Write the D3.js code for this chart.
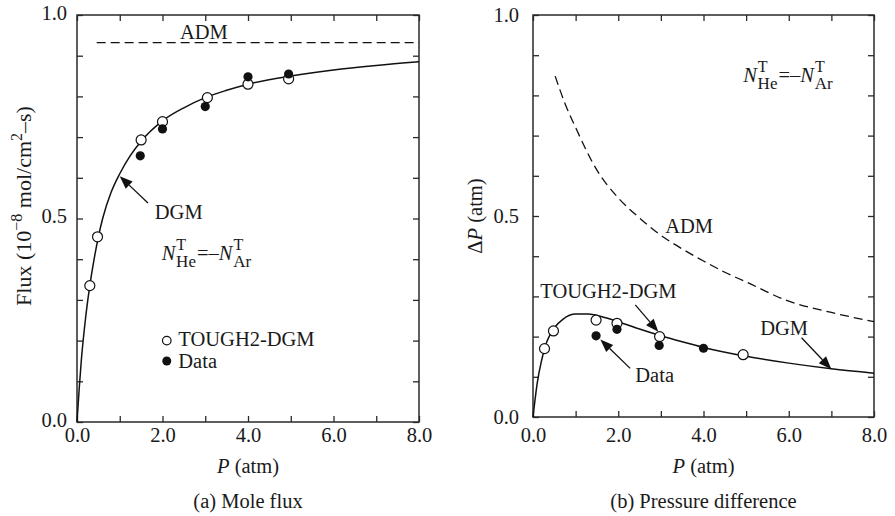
<!DOCTYPE html>
<html>
<head>
<meta charset="utf-8">
<script src="https://cdn.jsdelivr.net/npm/d3@7"></script>
<style>
  body { margin: 0; background: #fff; }
</style>
</head>
<body>
<script>
// ---- data ----
// (a) mole flux
const fluxDgmP   = [0, 0.05, 0.1, 0.2, 0.3, 0.4, 0.5, 0.6, 0.8, 1.0, 1.25, 1.5, 2.0, 2.5, 3.0, 3.5, 4.0, 5.0, 6.0, 7.0, 8.0];
const fluxDgmVal = [0, 0.08, 0.15, 0.255, 0.335, 0.40, 0.455, 0.50, 0.565, 0.61, 0.655, 0.69, 0.74, 0.772, 0.797, 0.815, 0.83, 0.85, 0.865, 0.876, 0.885];
const fluxAdmP   = [0.46, 8.0];
const fluxAdmVal = [0.932, 0.932];
const fluxToughP   = [0.30, 0.48, 1.5, 2.0, 3.05, 4.0, 4.95];
const fluxToughVal = [0.335, 0.455, 0.693, 0.738, 0.797, 0.83, 0.843];
const fluxDataP    = [1.48, 2.0, 3.0, 4.0, 4.95];
const fluxDataVal  = [0.654, 0.72, 0.775, 0.848, 0.855];

// (b) pressure difference
const dpDgmP   = [0, 0.05, 0.1, 0.2, 0.3, 0.4, 0.5, 0.7, 1.0, 1.3, 1.6, 2.0, 2.5, 3.0, 3.5, 4.0, 5.0, 6.0, 7.0, 8.0];
const dpDgmVal = [0, 0.045, 0.085, 0.14, 0.18, 0.205, 0.222, 0.243, 0.256, 0.256, 0.25, 0.237, 0.219, 0.202, 0.187, 0.173, 0.151, 0.134, 0.12, 0.109];
const dpAdmP   = [0.52, 0.75, 1.0, 1.5, 2.0, 2.5, 3.0, 3.5, 4.0, 4.5, 5.0, 6.0, 7.0, 8.0];
const dpAdmVal = [0.848, 0.78, 0.72, 0.614, 0.545, 0.495, 0.452, 0.418, 0.388, 0.36, 0.336, 0.288, 0.26, 0.237];
const dpToughP   = [0.27, 0.48, 1.48, 1.97, 2.97, 4.93];
const dpToughVal = [0.17, 0.214, 0.241, 0.233, 0.2, 0.155];
const dpDataP    = [1.48, 1.97, 2.96, 4.0];
const dpDataVal  = [0.202, 0.218, 0.178, 0.171];

const xTicks = [0, 1, 2, 3, 4, 5, 6, 7, 8];
const xTickLabels = ["0.0", "", "2.0", "", "4.0", "", "6.0", "", "8.0"];
const yTicks = [0, 0.1, 0.2, 0.3, 0.4, 0.5, 0.6, 0.7, 0.8, 0.9, 1.0];
const yTickLabels = ["0.0", "", "", "", "", "0.5", "", "", "", "", "1.0"];

const width = 895, height = 516, fs = 20.5;
const serif = "Liberation Serif, Tinos, Times New Roman, Times, DejaVu Serif, serif";

const svg = d3.select("body").append("svg")
  .attr("width", width)
  .attr("height", height)
  .attr("font-family", serif);

const zip = (a, b) => a.map((v, i) => [v, b[i]]);

function txt(sel) {
  return sel.attr("font-family", serif).attr("font-size", fs).attr("fill", "#1a1a1a");
}

function drawPanel(o) {
  const x = d3.scaleLinear().domain([0, 8]).range([o.left, o.right]);
  const y = d3.scaleLinear().domain([0, 1]).range([o.bottom, o.top]);
  const g = svg.append("g");

  // ticks, inward on all four sides
  const tickLen = 6;
  const axB = g.append("g").attr("transform", `translate(0,${o.bottom})`)
    .call(d3.axisBottom(x).tickValues(xTicks).tickSize(-tickLen).tickFormat((d, i) => xTickLabels[i]));
  axB.selectAll("text").attr("y", o.xLabelOff).attr("dy", 0);
  g.append("g").attr("transform", `translate(0,${o.top})`)
    .call(d3.axisTop(x).tickValues(xTicks).tickSize(-tickLen).tickFormat(""));
  const axL = g.append("g").attr("transform", `translate(${o.left},0)`)
    .call(d3.axisLeft(y).tickValues(yTicks).tickSize(-tickLen).tickFormat((d, i) => yTickLabels[i]));
  axL.selectAll("text").attr("x", -o.yLabelGap).attr("dy", o.yLabelDy);
  g.append("g").attr("transform", `translate(${o.right},0)`)
    .call(d3.axisRight(y).tickValues(yTicks).tickSize(-tickLen).tickFormat(""));
  g.selectAll(".domain").remove();
  g.selectAll("g").attr("font-family", serif).attr("font-size", fs);
  g.selectAll(".tick line").attr("stroke", "#2a2a2a").attr("stroke-width", 1.3);
  g.selectAll(".tick text").call(txt);

  g.append("rect")
    .attr("x", o.left).attr("y", o.top)
    .attr("width", o.right - o.left).attr("height", o.bottom - o.top)
    .attr("fill", "none").attr("stroke", "#2a2a2a").attr("stroke-width", 1.5);

  const line = d3.line().x(d => x(d[0])).y(d => y(d[1])).curve(d3.curveMonotoneX);

  g.append("path").datum(zip(o.admP, o.admVal))
    .attr("d", line).attr("fill", "none").attr("stroke", "#111")
    .attr("stroke-width", 1.3).attr("stroke-dasharray", "9,5");
  g.append("path").datum(zip(o.dgmP, o.dgmVal))
    .attr("d", line).attr("fill", "none").attr("stroke", "#111").attr("stroke-width", 1.5);

  g.selectAll(".tough").data(zip(o.toughP, o.toughVal)).join("circle")
    .attr("cx", d => x(d[0])).attr("cy", d => y(d[1])).attr("r", 5)
    .attr("fill", "#fff").attr("stroke", "#111").attr("stroke-width", 1.2);
  g.selectAll(".dat").data(zip(o.dataP, o.dataVal)).join("circle")
    .attr("cx", d => x(d[0])).attr("cy", d => y(d[1])).attr("r", 4.6)
    .attr("fill", "#111");

  // labels & arrows (positions in data units)
  o.texts.forEach(t => {
    g.append("text").attr("x", x(t[0])).attr("y", y(t[1])).call(txt).text(t[2]);
  });
  o.arrows.forEach(a => arrow(g, x(a[0]), y(a[1]), x(a[2]), y(a[3])));

  // N_He^T = -N_Ar^T
  const nt = g.append("text").attr("x", x(o.nLabel[0])).attr("y", y(o.nLabel[1])).call(txt);
  nt.append("tspan").attr("font-style", "italic").text("N");
  nt.append("tspan").attr("dx", 1).attr("dy", -10).attr("font-size", 16).text("T");
  nt.append("tspan").attr("dx", -10).attr("dy", 17).attr("font-size", 17).text("He");
  nt.append("tspan").attr("dx", 1).attr("dy", -7).text("=–");
  nt.append("tspan").attr("font-style", "italic").text("N");
  nt.append("tspan").attr("dx", 1).attr("dy", -10).attr("font-size", 16).text("T");
  nt.append("tspan").attr("dx", -10).attr("dy", 17).attr("font-size", 17).text("Ar");

  // x title and caption
  const cx = (o.left + o.right) / 2;
  const xt = g.append("text").attr("x", cx).attr("y", 473).attr("text-anchor", "middle").call(txt);
  xt.append("tspan").attr("font-style", "italic").text("P");
  xt.append("tspan").text(" (atm)");
  g.append("text").attr("x", cx).attr("y", 508).attr("text-anchor", "middle")
    .call(txt).text(o.caption);

  return { x, y, g };
}

function arrow(g, x1, y1, x2, y2) {
  const ang = Math.atan2(y2 - y1, x2 - x1);
  const L = 13, W = 5;
  const bx = x2 - L * Math.cos(ang), by = y2 - L * Math.sin(ang);
  g.append("line").attr("x1", x1).attr("y1", y1).attr("x2", bx).attr("y2", by)
    .attr("stroke", "#111").attr("stroke-width", 1.3);
  const px = -Math.sin(ang) * W, py = Math.cos(ang) * W;
  g.append("path")
    .attr("d", `M${x2},${y2}L${bx + px},${by + py}L${bx - px},${by - py}Z`)
    .attr("fill", "#111");
}

const left = drawPanel({
  left: 77, right: 419, top: 15, bottom: 422,
  xLabelOff: 20, yLabelGap: 10, yLabelDy: "0.2em",
  dgmP: fluxDgmP, dgmVal: fluxDgmVal, admP: fluxAdmP, admVal: fluxAdmVal,
  toughP: fluxToughP, toughVal: fluxToughVal, dataP: fluxDataP, dataVal: fluxDataVal,
  texts: [[2.41, 0.94, "ADM"], [1.82, 0.50, "DGM"], [2.37, 0.187, "TOUGH2-DGM"], [2.37, 0.132, "Data"]],
  arrows: [[1.66, 0.538, 1.0, 0.604]],
  nLabel: [1.98, 0.398],
  caption: "(a) Mole flux"
});
// legend markers
left.g.append("circle").attr("cx", left.x(2.1)).attr("cy", left.y(0.2)).attr("r", 4.3)
  .attr("fill", "#fff").attr("stroke", "#111").attr("stroke-width", 1.2);
left.g.append("circle").attr("cx", left.x(2.1)).attr("cy", left.y(0.15)).attr("r", 4.5)
  .attr("fill", "#111");

const ylab = svg.append("text").attr("transform", "translate(31,206) rotate(-90)")
  .attr("text-anchor", "middle").call(txt).attr("font-size", 22);
ylab.append("tspan").text("Flux (10");
ylab.append("tspan").attr("dy", -9).attr("font-size", 16).text("−8");
ylab.append("tspan").attr("dy", 9).text(" mol/cm");
ylab.append("tspan").attr("dy", -9).attr("font-size", 16).text("2");
ylab.append("tspan").attr("dy", 9).text("–s)");

drawPanel({
  left: 533, right: 874, top: 15, bottom: 417,
  xLabelOff: 25, yLabelGap: 14, yLabelDy: "0.3em",
  dgmP: dpDgmP, dgmVal: dpDgmVal, admP: dpAdmP, admVal: dpAdmVal,
  toughP: dpToughP, toughVal: dpToughVal, dataP: dpDataP, dataVal: dpDataVal,
  texts: [[3.1, 0.458, "ADM"], [0.17, 0.296, "TOUGH2-DGM"], [5.33, 0.204, "DGM"], [2.4, 0.088, "Data"]],
  arrows: [[2.4, 0.279, 2.94, 0.212], [6.3, 0.197, 7.0, 0.119], [2.28, 0.121, 1.58, 0.193]],
  nLabel: [4.93, 0.834],
  caption: "(b) Pressure difference"
});

const ylab2 = svg.append("text").attr("transform", "translate(482,216) rotate(-90)")
  .attr("text-anchor", "middle").call(txt);
ylab2.append("tspan").text("Δ");
ylab2.append("tspan").attr("font-style", "italic").text("P");
ylab2.append("tspan").text(" (atm)");
</script>
</body>
</html>
